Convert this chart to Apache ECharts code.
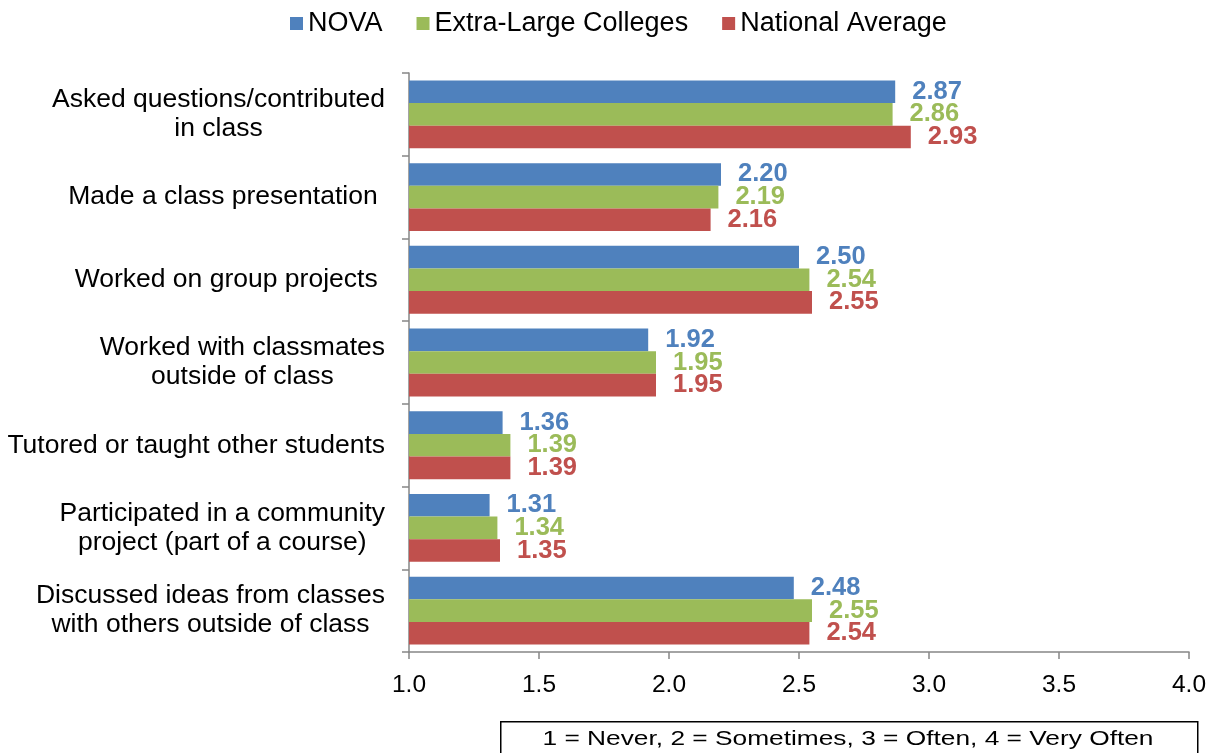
<!DOCTYPE html>
<html>
<head>
<meta charset="utf-8">
<script src="https://cdn.jsdelivr.net/npm/echarts@6/dist/echarts.min.js"></script>
<style>
html,body{margin:0;padding:0;background:#fff;}
#chart{width:1214px;height:753px;}
</style>
</head>
<body>
<div id="chart"></div>
<script>
const categories = [
  "Asked questions/contributed\nin class",
  "Made a class presentation ",
  "Worked on group projects ",
  "Worked with classmates\noutside of class",
  "Tutored or taught other students",
  "Participated in a community\nproject (part of a course)",
  "Discussed ideas from classes\nwith others outside of class"
];
const seriesNames = ["NOVA", "Extra-Large Colleges", "National Average"];
const novaValues = [2.87, 2.20, 2.50, 1.92, 1.36, 1.31, 2.48];
const xlValues = [2.86, 2.19, 2.54, 1.95, 1.39, 1.34, 2.55];
const nationalValues = [2.93, 2.16, 2.55, 1.95, 1.39, 1.35, 2.54];
const footnote = "1 = Never, 2 = Sometimes, 3 = Often, 4 = Very Often";

const colors = ["#4F81BD", "#9BBB59", "#C0504D"];
const FONT = "'Liberation Sans', Arial, sans-serif";

function makeSeries(name, data, color) {
  return {
    name: name,
    type: 'bar',
    data: data,
    barGap: '0%',
    barCategoryGap: '18%',
    itemStyle: { color: color },
    label: {
      show: true,
      position: 'right',
      distance: 17,
      color: color,
      fontFamily: FONT,
      fontSize: 25.5,
      fontWeight: 'bold',
      formatter: p => p.value.toFixed(2)
    }
  };
}

const chart = echarts.init(document.getElementById('chart'), null, { renderer: 'canvas' });
chart.setOption({
  animation: false,
  backgroundColor: '#fff',
  color: colors,
  textStyle: { fontFamily: FONT },
  legend: {
    top: 5,
    left: 285,
    itemWidth: 13,
    itemHeight: 13,
    itemGap: 34,
    icon: 'rect',
    textStyle: { fontSize: 27, color: '#000', fontFamily: FONT },
    data: seriesNames
  },
  grid: { left: 409, right: 25, top: 73, bottom: 101, containLabel: false },
  xAxis: {
    type: 'value',
    min: 1,
    max: 4,
    interval: 0.5,
    axisLine: { show: true, lineStyle: { color: '#868686', width: 1.5 } },
    axisTick: { show: true, length: 7, lineStyle: { color: '#868686', width: 1.5 } },
    splitLine: { show: false },
    axisLabel: {
      margin: 21,
      fontSize: 24.5,
      color: '#000',
      fontFamily: FONT,
      formatter: v => v.toFixed(1)
    }
  },
  yAxis: {
    type: 'category',
    inverse: true,
    data: categories,
    axisLine: { show: true, lineStyle: { color: '#868686', width: 1.5 } },
    axisTick: { show: true, length: 7, lineStyle: { color: '#868686', width: 1.5 } },
    axisLabel: {
      margin: 24,
      formatter: v => v.split('\n').map(s => '{c|' + s + '}').join('\n'),
      rich: {
        c: { align: 'center', fontSize: 26.5, lineHeight: 29, color: '#000', fontFamily: FONT }
      }
    }
  },
  series: [
    makeSeries(seriesNames[0], novaValues, colors[0]),
    makeSeries(seriesNames[1], xlValues, colors[1]),
    makeSeries(seriesNames[2], nationalValues, colors[2])
  ],
  graphic: [
    {
      type: 'rect',
      left: 500,
      top: 721,
      shape: { width: 697, height: 45 },
      style: { fill: '#fff', stroke: '#000', lineWidth: 1.5 }
    },
    {
      type: 'text',
      x: 848,
      y: 739,
      scaleY: 0.8,
      style: {
        text: footnote,
        fontSize: 26.3,
        fontFamily: FONT,
        fill: '#000',
        align: 'center',
        verticalAlign: 'middle'
      }
    }
  ]
});
</script>
</body>
</html>
